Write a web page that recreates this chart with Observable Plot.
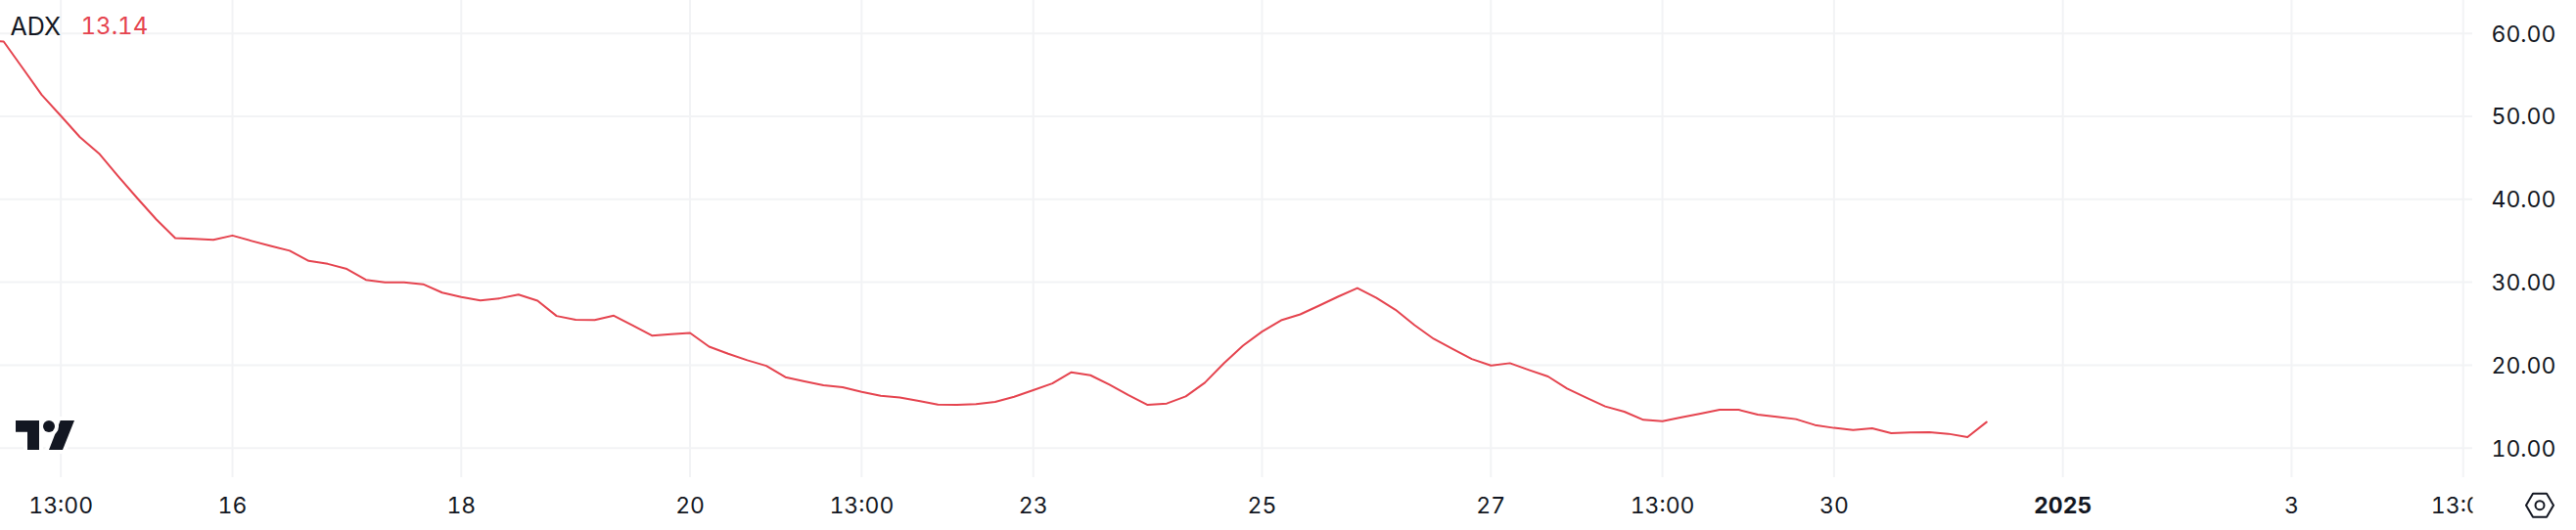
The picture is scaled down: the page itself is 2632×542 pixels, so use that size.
<!DOCTYPE html>
<html>
<head>
<meta charset="utf-8">
<style>
html,body{margin:0;padding:0;background:#fff;}
svg{display:block;max-width:none;}
svg text{font-variant-numeric:tabular-nums;font-feature-settings:"tnum" 1;}
</style>
<script src="https://cdn.jsdelivr.net/npm/d3@7"></script>
<script src="https://cdn.jsdelivr.net/npm/@observablehq/plot@0.6"></script>
</head>
<body>
<div id="chart"></div>
<script>
const indicatorName = "ADX";
const firstBar = "2024-12-13T20:00:00Z";
const barHours = 4;
const adx = [
  59.1,59.02,55.80,52.58,50.06,47.49,45.53,42.80,40.15,37.59,35.31,35.22,35.10,
  35.63,34.98,34.37,33.80,32.57,32.21,31.60,30.29,29.97,29.97,29.76,28.74,28.22,
  27.81,28.05,28.50,27.77,25.93,25.48,25.44,25.97,24.79,23.57,23.72,23.88,22.23,
  21.37,20.59,19.92,18.55,18.04,17.57,17.33,16.78,16.31,16.11,15.68,15.25,15.21,
  15.29,15.57,16.19,16.98,17.80,19.14,18.78,17.65,16.39,15.21,15.37,16.23,17.88,
  20.23,22.35,24.04,25.41,26.12,27.18,28.27,29.29,28.12,26.67,24.82,23.18,21.96,
  20.74,19.96,20.24,19.41,18.63,17.17,16.08,15.02,14.39,13.41,13.25,13.72,14.15,
  14.62,14.62,14.04,13.76,13.49,12.78,12.43,12.19,12.39,11.80,11.88,11.92,11.72,
  11.33,13.14
];
const xTickDates = ["2024-12-14T12:00:00Z","2024-12-16T00:00:00Z","2024-12-18T00:00:00Z","2024-12-20T00:00:00Z","2024-12-21T12:00:00Z","2024-12-23T00:00:00Z","2024-12-25T00:00:00Z","2024-12-27T00:00:00Z","2024-12-28T12:00:00Z","2024-12-30T00:00:00Z","2025-01-01T00:00:00Z","2025-01-03T00:00:00Z","2025-01-04T12:00:00Z"];
const xTickLabels = ["13:00","16","18","20","13:00","23","25","27","13:00","30","2025","3","13:00"];
const yTicks = [10,20,30,40,50,60];
const xDomain = ["2024-12-13T23:20:00Z","2025-01-04T14:00:00Z"];
const yDomain = [6.43,63.97];

const ink = "#131722", red = "#e5444f", gridColor = "#f2f3f5";
const font = "Inter";
const t0 = new Date(firstBar).getTime();
const rows = adx.map((v,i)=>({t:new Date(t0+i*barHours*3600e3), v}));
const tickDates = xTickDates.map(d=>new Date(d));
const labelOf = new Map(tickDates.map((d,i)=>[+d,xTickLabels[i]]));
const isBold = d => labelOf.get(+d)==="2025";

const chart = Plot.plot({
  width:2632, height:542,
  marginLeft:0, marginRight:106, marginTop:0, marginBottom:54,
  style:{fontFamily:font, background:"#fff", color:ink},
  x:{type:"utc", domain:xDomain.map(d=>new Date(d)), label:null},
  y:{domain:yDomain, label:null},
  marks:[
    Plot.ruleX(tickDates,{stroke:gridColor,strokeWidth:2}),
    Plot.ruleY(yTicks,{stroke:gridColor,strokeWidth:2}),
    Plot.line(rows,{x:"t",y:"v",stroke:red,strokeWidth:2,clip:true,curve:"linear"}),
    Plot.axisX(tickDates.filter(d=>!isBold(d)),{tickSize:0,tickPadding:20,fontSize:23,label:null,fill:ink,tickFormat:d=>labelOf.get(+d)}),
    Plot.axisX(tickDates.filter(isBold),{tickSize:0,tickPadding:20,fontSize:23,fontWeight:700,label:null,fill:ink,tickFormat:d=>labelOf.get(+d)}),
    Plot.axisY(yTicks,{anchor:"right",tickSize:0,tickPadding:19,fontSize:23,dy:1,label:null,fill:ink,tickFormat:d3.format(".2f")}),
    Plot.text([indicatorName],{frameAnchor:"top-left",dx:10,dy:27,fontSize:25,fill:ink,textAnchor:"start",lineAnchor:"middle"}),
    Plot.text([d3.format(".2f")(adx[adx.length-1])],{frameAnchor:"top-left",dx:82,dy:27,fontSize:24,fill:red,textAnchor:"start",lineAnchor:"middle"})
  ]
});

// TradingView attribution and settings icon, plus the clip on the last time label
const svg = d3.select(chart);
svg.append("defs").append("clipPath").attr("id","paneClip").append("rect").attr("x",0).attr("y",0).attr("width",2526).attr("height",542);
const lastLabel = svg.selectAll("text").filter(function(){return this.textContent==="13:00";}).nodes().pop();
const clipG = document.createElementNS("http://www.w3.org/2000/svg","g");
clipG.setAttribute("clip-path","url(#paneClip)");
lastLabel.parentNode.insertBefore(clipG,lastLabel);
clipG.appendChild(lastLabel);
const logo = svg.append("g").attr("fill",ink).attr("stroke","#fff");
const logoPaths = ["M16 430H40V460H28V441.7H16Z","M61.7 430H76L64 460H50Z"];
logoPaths.forEach(d=>logo.append("path").attr("d",d).attr("stroke-width",8).attr("paint-order","stroke"));
logo.append("circle").attr("cx",50).attr("cy",436).attr("r",6).attr("stroke-width",8).attr("paint-order","stroke");
const hex = svg.append("g").attr("transform","translate(2595,516.7)").attr("fill","none").attr("stroke",ink).attr("stroke-width",2);
hex.append("path").attr("d","M-14 0L-7 -12H7L14 0L7 12H-7Z").attr("stroke-linejoin","round");
hex.append("circle").attr("r",4.5);
document.getElementById("chart").appendChild(chart);
</script>
</body>
</html>
